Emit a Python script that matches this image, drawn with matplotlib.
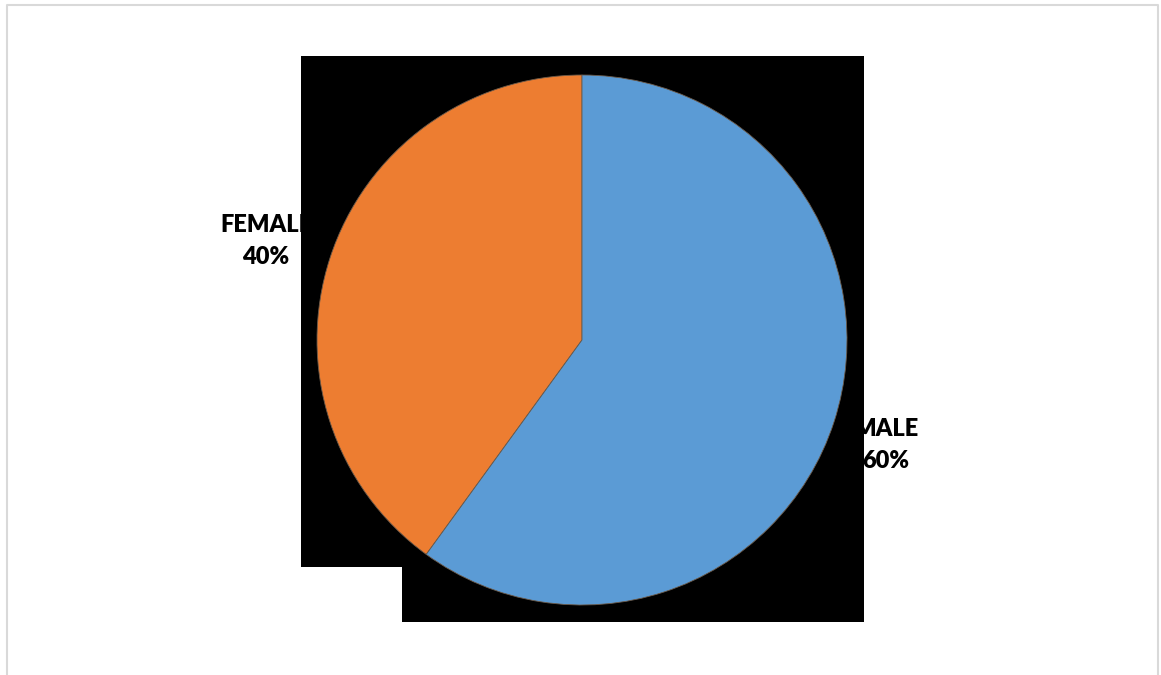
import matplotlib.pyplot as plt
from matplotlib.patches import Rectangle

# gender split
labels = ['FEMALE', 'MALE']
shares = [40, 60]
colors = ['#ED7D31', '#5B9BD5']

W, H = 1161, 675
fig = plt.figure(figsize=(W / 100, H / 100), dpi=100)
ax = fig.add_axes([0, 0, 1, 1])
ax.set_xlim(0, W)
ax.set_ylim(0, H)
ax.set_aspect('equal')
ax.axis('off')


def py(y):
    # pixel row -> data y
    return H - y


# outer frame
ax.plot([7, 7, 1158, 1158], [py(700), py(5), py(5), py(700)],
        color='#d9d9d9', lw=1.5, zorder=1)

# data labels (sit under the dark background block)
font = dict(family=['Lato', 'DejaVu Sans'], fontsize=17, fontweight='heavy',
            ha='center', va='center', color='black', linespacing=1.55)
total = sum(shares)
ax.text(266, py(241), f'{labels[0]}\n{round(shares[0] / total * 100)}%', zorder=2, **font)
ax.text(886, py(445), f'{labels[1]}\n{round(shares[1] / total * 100)}%', zorder=2, **font)

# black plot-area block
ax.add_patch(Rectangle((301, py(567)), 864 - 301, 567 - 56, color='black', lw=0, zorder=3))
ax.add_patch(Rectangle((402, py(622)), 864 - 402, 622 - 567, color='black', lw=0, zorder=3))

wedges, _ = ax.pie(shares, colors=colors, startangle=90, counterclock=True,
                   center=(582, py(340)), radius=265, frame=True,
                   wedgeprops=dict(edgecolor='#6b5a4a', linewidth=0.6))
for w in wedges:
    w.set_zorder(4)

ax.set_xlim(0, W)
ax.set_ylim(0, H)
ax.axis('off')

fig.savefig('out.png', dpi=100, facecolor='white')
